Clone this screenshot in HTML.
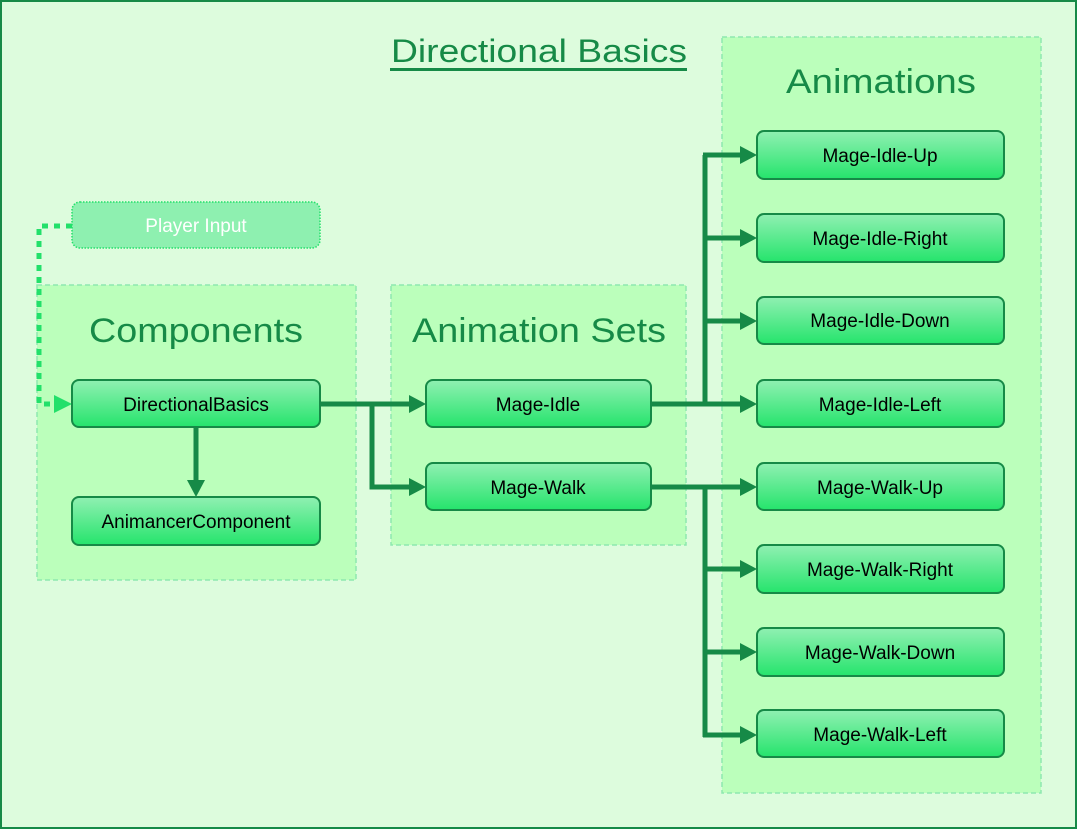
<!DOCTYPE html>
<html><head><meta charset="utf-8"><style>
html,body{margin:0;padding:0;background:#ddfcdd;}
svg{display:block;}
text{font-family:"Liberation Sans",sans-serif;}
</style></head><body>
<svg width="1077" height="829" viewBox="0 0 1077 829" xmlns="http://www.w3.org/2000/svg">
<defs>
<linearGradient id="g" x1="0" y1="0" x2="0" y2="1">
<stop offset="0" stop-color="#90f0b2"/><stop offset="1" stop-color="#25e46c"/>
</linearGradient>
</defs>
<rect x="1" y="1" width="1075" height="827" fill="#ddfcdd" stroke="#168a47" stroke-width="2"/>
<text x="539" y="62" font-size="32" fill="#168a47" text-anchor="middle" textLength="296" lengthAdjust="spacingAndGlyphs">Directional Basics</text>
<rect x="390" y="68" width="297" height="3" fill="#168a47"/>

<g fill="#bbffbb" stroke="#8ee8b0" stroke-width="1.5" stroke-dasharray="5 3">
<rect x="722" y="37" width="319" height="756"/>
<rect x="37" y="285" width="319" height="295"/>
<rect x="391" y="285" width="295" height="260"/>
</g>
<g font-size="34" fill="#168a47" text-anchor="middle">
<text x="881" y="93" textLength="190" lengthAdjust="spacingAndGlyphs">Animations</text>
<text x="196" y="342" textLength="214" lengthAdjust="spacingAndGlyphs">Components</text>
<text x="539" y="342" textLength="254" lengthAdjust="spacingAndGlyphs">Animation Sets</text>
</g>

<g stroke="#168a47" stroke-width="5" fill="none">
<path d="M320 404 H410"/>
<path d="M372 404 V487 H410"/>
<path d="M196 427 V482"/>
<path d="M651 404 H741"/>
<path d="M651 487 H741"/>
<path d="M705 406 V155"/>
<path d="M705 485 V737"/>
<path d="M703 155 H741"/>
<path d="M705 238 H741"/>
<path d="M705 321 H741"/>
<path d="M705 569 H741"/>
<path d="M705 652 H741"/>
<path d="M703 735 H741"/>
</g>
<g fill="#168a47">
<path d="M409 395 L426 404 L409 413 Z"/>
<path d="M409 478 L426 487 L409 496 Z"/>
<path d="M187 480 L196 497 L205 480 Z"/>
<path d="M740 146 L757 155 L740 164 Z"/>
<path d="M740 229 L757 238 L740 247 Z"/>
<path d="M740 312 L757 321 L740 330 Z"/>
<path d="M740 395 L757 404 L740 413 Z"/>
<path d="M740 478 L757 487 L740 496 Z"/>
<path d="M740 560 L757 569 L740 578 Z"/>
<path d="M740 643 L757 652 L740 661 Z"/>
<path d="M740 726 L757 735 L740 744 Z"/>
</g>
<path d="M72 226 H39 V404 H54" stroke="#22e06a" stroke-width="5" fill="none" stroke-dasharray="6 6"/>
<path d="M54 395 L72 404 L54 413 Z" fill="#22e06a"/>

<rect x="72" y="202" width="248" height="46" rx="8" fill="#8ef0b0" stroke="#22e06a" stroke-width="1.5" stroke-dasharray="1.5 1.5"/>
<text x="196" y="232" font-size="19" fill="#fff" text-anchor="middle">Player Input</text>

<g fill="url(#g)" stroke="#168a47" stroke-width="2">
<rect x="72" y="380" width="248" height="47" rx="7"/>
<rect x="72" y="497" width="248" height="48" rx="7"/>
<rect x="426" y="380" width="225" height="47" rx="7"/>
<rect x="426" y="463" width="225" height="47" rx="7"/>
<rect x="757" y="131" width="247" height="48" rx="7"/>
<rect x="757" y="214" width="247" height="48" rx="7"/>
<rect x="757" y="297" width="247" height="47" rx="7"/>
<rect x="757" y="380" width="247" height="47" rx="7"/>
<rect x="757" y="463" width="247" height="47" rx="7"/>
<rect x="757" y="545" width="247" height="48" rx="7"/>
<rect x="757" y="628" width="247" height="48" rx="7"/>
<rect x="757" y="710" width="247" height="47" rx="7"/>
</g>
<g font-size="19" fill="#000" text-anchor="middle">
<text x="196" y="411">DirectionalBasics</text>
<text x="196" y="528">AnimancerComponent</text>
<text x="538" y="411">Mage-Idle</text>
<text x="538" y="494">Mage-Walk</text>
<text x="880" y="162">Mage-Idle-Up</text>
<text x="880" y="245">Mage-Idle-Right</text>
<text x="880" y="327">Mage-Idle-Down</text>
<text x="880" y="411">Mage-Idle-Left</text>
<text x="880" y="494">Mage-Walk-Up</text>
<text x="880" y="576">Mage-Walk-Right</text>
<text x="880" y="659">Mage-Walk-Down</text>
<text x="880" y="741">Mage-Walk-Left</text>
</g>
</svg>
</body></html>
